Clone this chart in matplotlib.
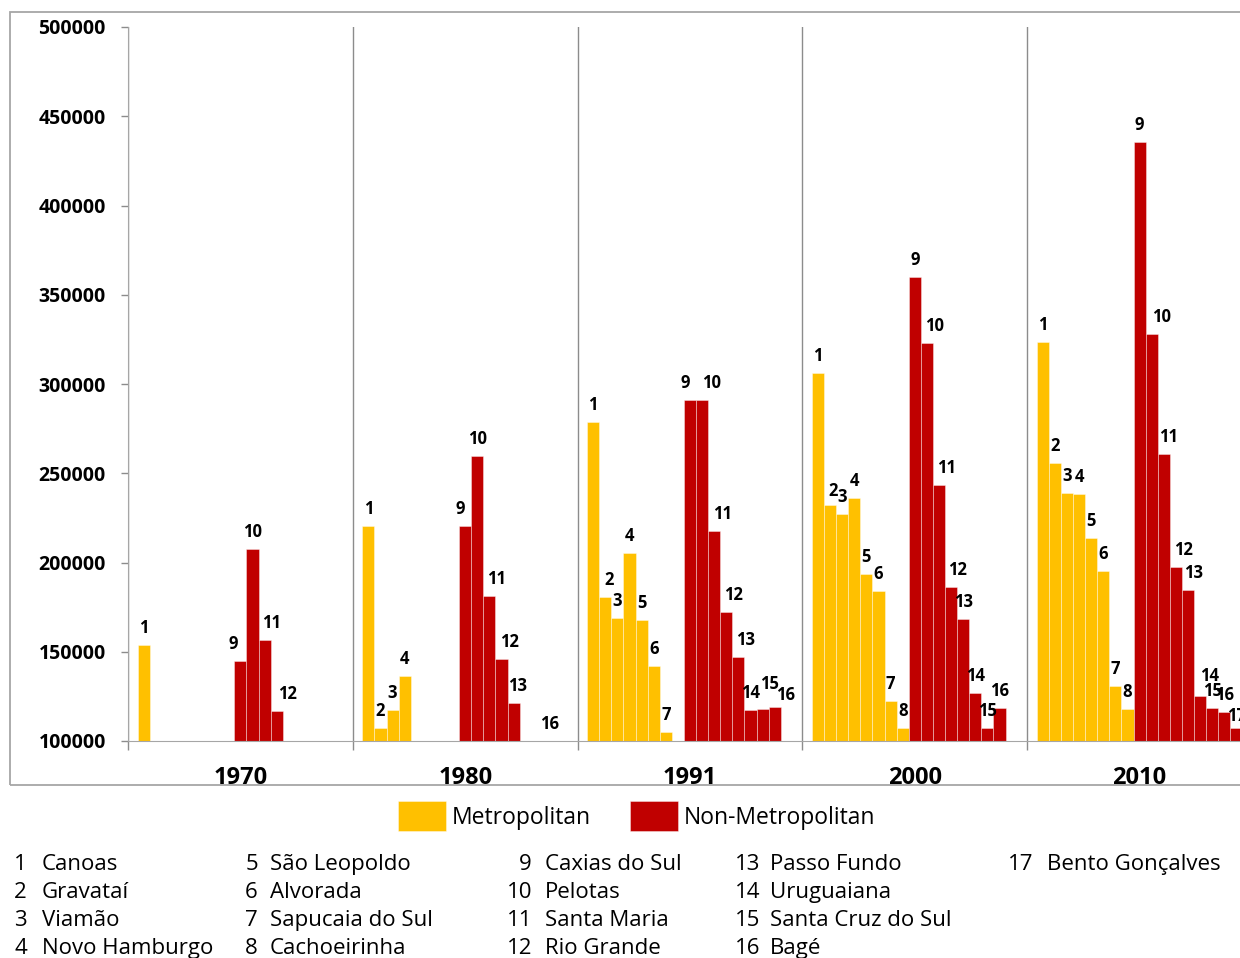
import numpy as np
import matplotlib.pyplot as plt
from matplotlib.patches import Rectangle

plt.rcParams['font.family'] = ['Open Sans', 'DejaVu Sans']

nan = np.nan

years = ['1970', '1980', '1991', '2000', '2010']
cities = ['Canoas', 'Gravataí', 'Viamão', 'Novo Hamburgo', 'São Leopoldo', 'Alvorada',
          'Sapucaia do Sul', 'Cachoeirinha', 'Caxias do Sul', 'Pelotas', 'Santa Maria',
          'Rio Grande', 'Passo Fundo', 'Uruguaiana', 'Santa Cruz do Sul', 'Bagé',
          'Bento Gonçalves']
n_metro = 8  # cities 1-8 are in the metropolitan region

# population per city (1..17), nan = under 100000 / not shown
pop_1970 = [153800, nan, nan, nan, nan, nan, nan, nan,
            144800, 207700, 156600, 116600, nan, nan, nan, nan, nan]
pop_1980 = [220300, 107300, 117400, 136400, nan, nan, nan, nan,
            220300, 259800, 181200, 146100, 121100, nan, nan, 100000, nan]
pop_1991 = [278900, 180800, 169100, 205500, 167800, 142000, 104900, nan,
            290900, 291000, 217500, 172300, 147200, 117400, 117700, 118900, nan]
pop_2000 = [306000, 232400, 227200, 236100, 193400, 183800, 122400, 107300,
            360100, 322800, 243400, 186300, 168300, 126700, 107500, 118500, nan]
pop_2010 = [323400, 255700, 239200, 238500, 213700, 195300, 130600, 118200,
            435500, 328100, 260900, 197200, 184600, 125200, 118600, 116500, 107500]

pop = np.array([pop_1970, pop_1980, pop_1991, pop_2000, pop_2010])

# hand-moved data labels (pixels right, pixels up)
label_nudge = {
    ('1970', 9): (-7, 0), ('1970', 11): (7, 0), ('1970', 12): (11, 0),
    ('1980', 9): (-5, 0), ('1980', 11): (7, 0), ('1980', 12): (8, 0), ('1980', 13): (4, 0),
    ('1991', 2): (4, 0), ('1991', 9): (-5, 0), ('1991', 10): (9, 0), ('1991', 11): (8, 0),
    ('1991', 12): (7, 0), ('1991', 13): (7, 0), ('1991', 15): (7, 8), ('1991', 16): (11, -5),
    ('2000', 2): (3, -3), ('2000', 10): (8, 0), ('2000', 11): (8, 0), ('2000', 12): (6, 0),
    ('2010', 10): (10, 0), ('2010', 11): (5, 0), ('2010', 12): (8, 0), ('2010', 13): (6, 0),
    ('2010', 14): (9, 3), ('2010', 17): (0, -5),
}

YELLOW = '#FFC000'
RED = '#C00000'
W, H = 1240, 958

fig = plt.figure(figsize=(W / 100, H / 100), dpi=100)
# plot area runs past the right edge of the image
ax = fig.add_axes([128 / W, 1 - 741 / H, 1124 / W, 714 / H])

# outer chart frame
fig.patches.append(Rectangle((10 / W, 1 - 785 / H), 1.2, 773 / H, transform=fig.transFigure,
                             fill=False, edgecolor='#a6a6a6', linewidth=1.3))

n = len(cities)
w = 0.9153 / n
group_x = np.arange(len(years)) + 0.5
bars = []
for i in range(n):
    x = group_x + (i - (n - 1) / 2) * w
    color = YELLOW if i < n_metro else RED
    b = ax.bar(x, pop[:, i], width=w, color=color, edgecolor=(1, 1, 1, 0.45), linewidth=0.6)
    bars.append(b)
    for g, yr in enumerate(years):
        v = pop[g, i]
        if np.isnan(v):
            continue
        dx, dy = label_nudge.get((yr, i + 1), (0, 0))
        ax.annotate(str(i + 1), (x[g], v), xytext=(dx, 12 + dy), textcoords='offset pixels',
                    ha='center', va='baseline', fontsize=12, fontweight='bold',
                    annotation_clip=False)

ax.set_xlim(0, len(years))
ax.set_ylim(100000, 500000)
ax.set_yticks(np.arange(100000, 500001, 50000))
ax.tick_params(axis='y', direction='out', length=5, width=1, color='#8c8c8c', pad=11,
               labelsize=14)
for lab in ax.get_yticklabels():
    lab.set_fontweight('bold')

# category boundaries as ticks + vertical gridlines, year labels in between
ax.set_xticks(np.arange(len(years) + 1))
ax.set_xticklabels([])
ax.set_xticks(group_x, minor=True)
ax.set_xticklabels(years, minor=True, fontsize=17, fontweight='bold')
ax.tick_params(axis='x', which='major', direction='out', length=6.5, width=1, color='#8c8c8c')
ax.tick_params(axis='x', which='minor', length=0, pad=18)
ax.grid(axis='x', which='major', color='#8c8c8c', linewidth=1)
ax.set_axisbelow(True)

for side in ['top', 'right']:
    ax.spines[side].set_visible(False)
ax.spines['left'].set_color('#a6a6a6')
ax.spines['bottom'].set_color('#a6a6a6')

fig.legend(handles=[bars[0], bars[n_metro]], labels=['Metropolitan', 'Non-Metropolitan'],
           loc='center', bbox_to_anchor=(637 / W, 1 - 816 / H), ncol=2, frameon=False,
           fontsize=16.5, handlelength=2.1, handleheight=1.6, handletextpad=0.25,
           columnspacing=1.7)

# numbered city key under the chart
num_right = [27, 258, 532, 760, 1033]
name_left = [42, 270, 545, 770, 1047]
row_base = [870, 898, 926, 954]
for k, name in enumerate(cities):
    col, row = k // 4, k % 4
    yb = 1 - row_base[row] / H
    fig.text(num_right[col] / W, yb, str(k + 1), ha='right', va='baseline', fontsize=16)
    fig.text(name_left[col] / W, yb, name, ha='left', va='baseline', fontsize=16)

fig.savefig('out.png', dpi=100)
